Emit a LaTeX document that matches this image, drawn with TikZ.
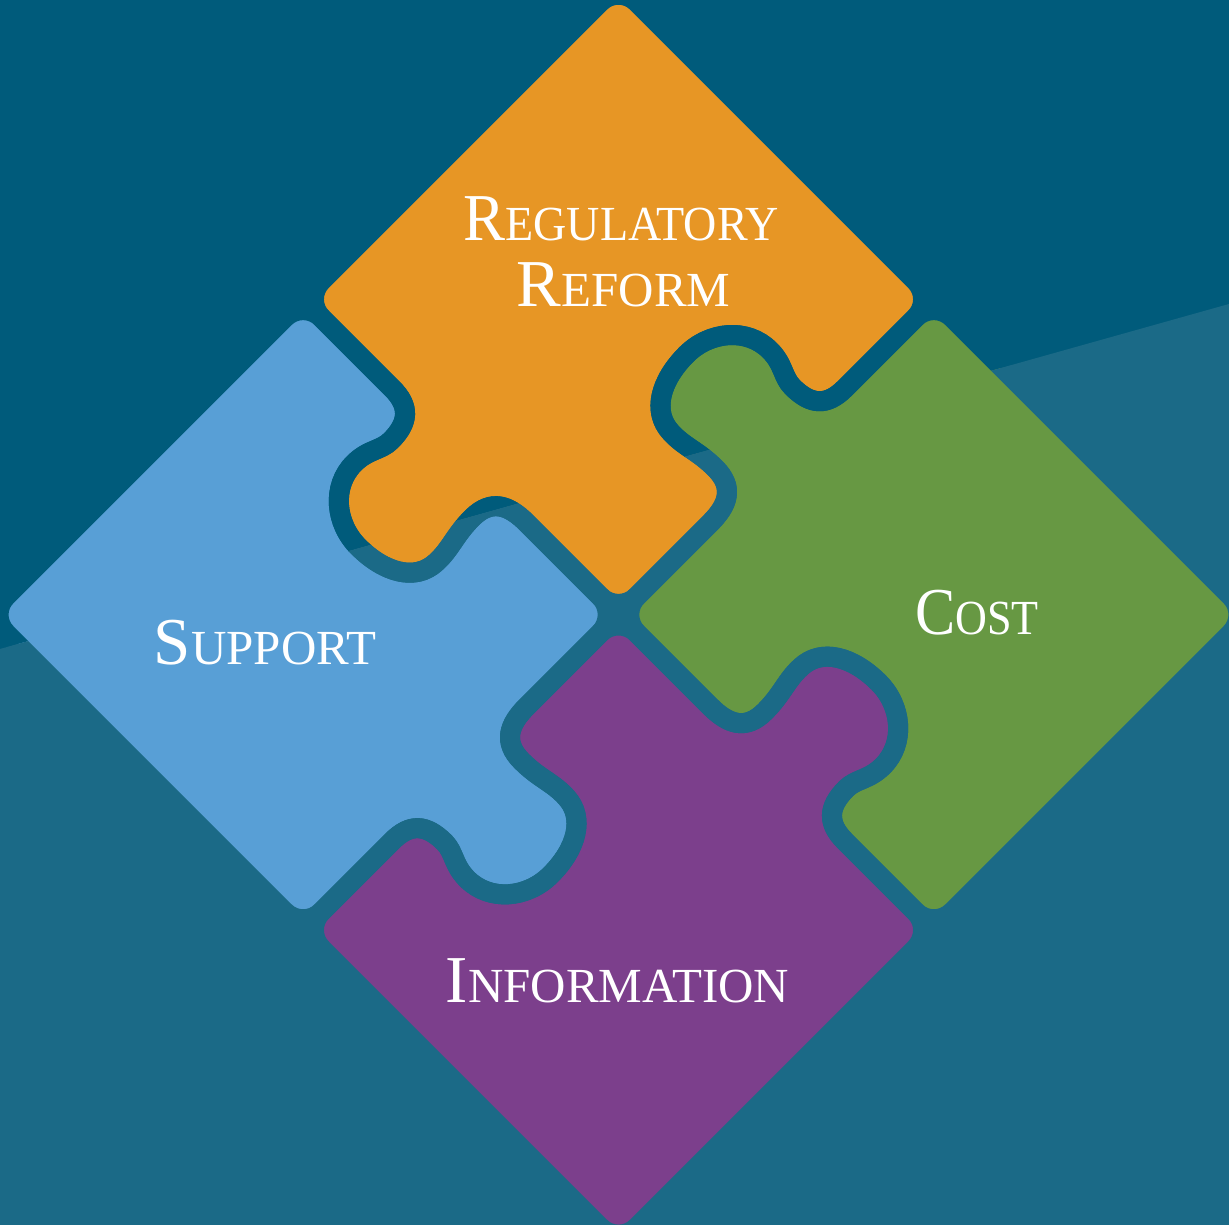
\documentclass[tikz,border=0pt]{standalone}
\usepackage{fontspec}
\setmainfont{Liberation Serif}
\usepackage{graphicx}
\definecolor{bgdark}{RGB}{0,91,123}
\definecolor{bglight}{RGB}{27,106,135}
\definecolor{porange}{RGB}{231,150,37}
\definecolor{pgreen}{RGB}{103,152,67}
\definecolor{ppurple}{RGB}{124,63,140}
\definecolor{pblue}{RGB}{88,159,214}
\newcommand\piecepath{(0,60) -- (0,26) arc[start angle=180, end angle=270, radius=26] -- (130,0) .. controls (155,0) and (172,8) .. (172,35) .. controls (172,60) and (165,72) .. (166,92) .. controls (167,120) and (195,136) .. (232,136) .. controls (265,136) and (294,112) .. (294,80) .. controls (294,60) and (284,52) .. (284,38) .. controls (284,12) and (295,0) .. (320,0) -- (420,0) arc[start angle=270, end angle=360, radius=26] -- (446,420) arc[start angle=0, end angle=90, radius=26] -- (26,446) arc[start angle=90, end angle=180, radius=26] -- (0,320) .. controls (0,295) and (-12,284) .. (-38,284) .. controls (-52,284) and (-60,294) .. (-80,294) .. controls (-112,294) and (-136,265) .. (-136,232) .. controls (-136,195) and (-120,167) .. (-92,166) .. controls (-72,165) and (-60,172) .. (-35,172) .. controls (-8,172) and (0,155) .. (0,130) -- cycle}
\newcommand\capbig[1]{{\fontsize{67pt}{67pt}\selectfont #1}}
\newcommand\capsmall[1]{{\fontsize{49pt}{49pt}\selectfont #1}}
\tikzset{
  lbl/.style={text=white, inner sep=0pt, anchor=base},
  gapline/.style={line width=20pt, line join=round}
}
\begin{document}
\begin{tikzpicture}[x=1pt,y=1pt]
\useasboundingbox (0,0) rectangle (1229,1225);
% background
\fill[bgdark] (0,0) rectangle (1229,1225);
\fill[bglight] (0,0) -- (1229,0) -- (1229,921) -- (0,576) -- cycle;
% pieces
\begin{scope}[shift={(618.5,610.3)}, rotate=45]
  \foreach \ang/\col in {0/porange, -90/pgreen, 180/ppurple, 90/pblue}{
    \begin{scope}[rotate=\ang]
      \fill[\col] \piecepath;
    \end{scope}
  }
\end{scope}
% gaps in the upper (dark) background
\begin{scope}
  \clip (0,576) -- (1229,921) -- (1229,1225) -- (0,1225) -- cycle;
  \begin{scope}[shift={(618.5,610.3)}, rotate=45]
    \foreach \ang in {0,-90,180,90}{
      \begin{scope}[rotate=\ang]
        \draw[bgdark, gapline] \piecepath;
      \end{scope}
    }
  \end{scope}
\end{scope}
% gaps in the lower (light) background
\begin{scope}
  \clip (0,0) -- (1229,0) -- (1229,921) -- (0,576) -- cycle;
  \begin{scope}[shift={(618.5,610.3)}, rotate=45]
    \foreach \ang in {0,-90,180,90}{
      \begin{scope}[rotate=\ang]
        \draw[bglight, gapline] \piecepath;
      \end{scope}
    }
  \end{scope}
\end{scope}
% labels
\node[lbl] (reg) at (621,984) {\scalebox{0.94}[1]{\capbig{R}\capsmall{EGULATORY}}};
\node[lbl] (ref) at (623.5,918) {\capbig{R}\capsmall{EFORM}};
\node[lbl] (sup) at (265,560) {\capbig{S}\capsmall{UPPORT}};
\node[lbl] (cost) at (977,590) {\scalebox{0.9}[1]{\capbig{C}\capsmall{OST}}};
\node[lbl] (inf) at (617.5,222) {\capbig{I}\capsmall{NFORMATION}};
\end{tikzpicture}
\end{document}
